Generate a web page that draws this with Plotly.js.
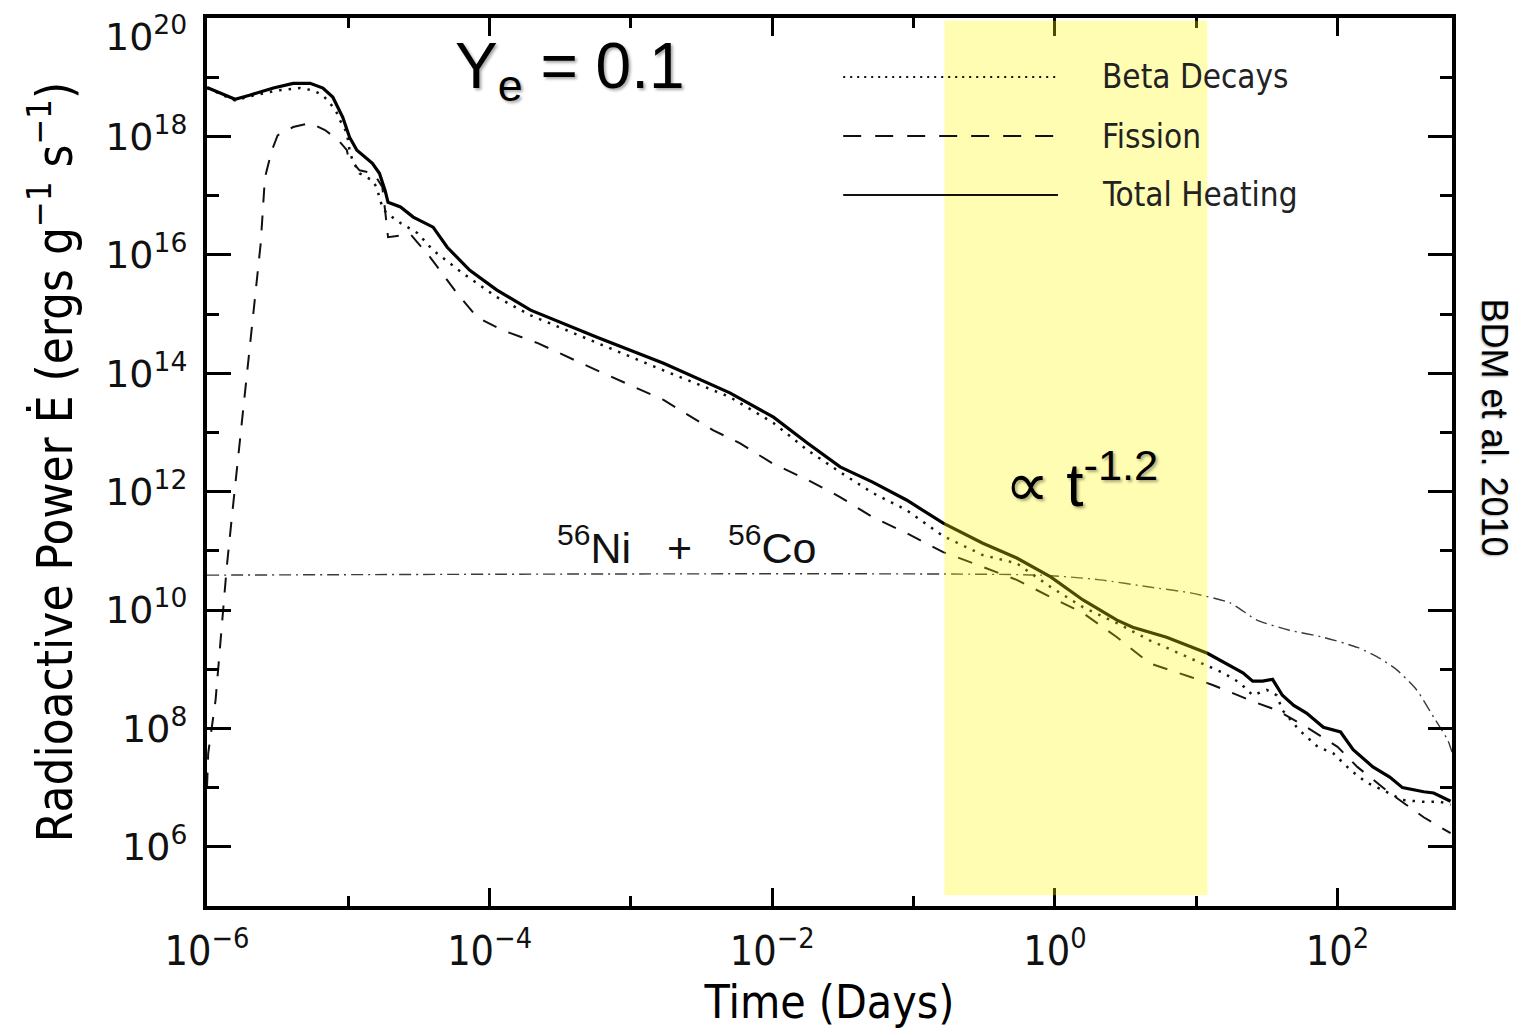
<!DOCTYPE html>
<html>
<head>
<meta charset="utf-8">
<script src="https://cdn.plot.ly/plotly-3.0.1.min.js"></script>
<style>
  html, body { margin: 0; padding: 0; background: #ffffff; }
  #chart { width: 1517px; height: 1034px; }
</style>
</head>
<body>
<div id="chart"></div>
<script>
// ---- Data (time in days, power in erg g^-1 s^-1) ----
const totalTime = [1.0e-6, 1.58e-6, 2.0e-6, 2.95e-6, 4.07e-6, 5.37e-6, 6.61e-6, 7.76e-6, 9.12e-6, 1.02e-5,
  1.15e-5, 1.48e-5, 1.66e-5, 1.82e-5, 1.91e-5, 2.34e-5, 2.88e-5, 3.98e-5, 5.01e-5, 7.24e-5,
  1.12e-4, 1.95e-4, 5.75e-4, 1.70e-3, 5.01e-3, 0.0102, 0.0178, 0.0302, 0.0513, 0.0891,
  0.162, 0.309, 0.537, 0.933, 1.58, 2.75, 3.55, 6.17, 12.0, 15.5,
  21.4, 25.1, 29.5, 34.7, 40.7, 49.0, 60.3, 79.4, 105, 129,
  178, 234, 288, 407, 479, 631];
const totalPower = [6.76e18, 4.27e18, 5.01e18, 6.61e18, 7.94e18, 7.94e18, 6.61e18, 4.68e18, 2.14e18, 9.77e17,
  5.89e17, 3.55e17, 2.40e17, 1.23e17, 7.76e16, 6.46e16, 4.37e16, 2.95e16, 1.35e16, 5.50e15,
  2.57e15, 1.17e15, 4.07e14, 1.48e14, 4.68e13, 1.82e13, 6.61e12, 2.63e12, 1.45e12, 7.24e11,
  2.95e11, 1.35e11, 7.59e10, 3.63e10, 1.48e10, 6.76e9, 5.13e9, 3.47e9, 1.86e9, 1.32e9,
  8.71e8, 6.31e8, 6.31e8, 6.76e8, 3.63e8, 2.45e8, 1.82e8, 1.05e8, 8.71e7, 4.37e7,
  2.24e7, 1.51e7, 1.00e7, 8.51e6, 8.13e6, 5.89e6];

const betaTime = [1.0e-6, 1.58e-6, 2.0e-6, 3.16e-6, 4.57e-6, 5.62e-6, 6.61e-6, 7.41e-6, 8.13e-6, 8.71e-6,
  9.77e-6, 1.02e-5, 1.07e-5, 1.20e-5, 1.35e-5, 1.48e-5, 1.58e-5, 1.74e-5, 1.86e-5, 2.34e-5,
  3.09e-5, 3.98e-5, 6.46e-5, 1.12e-4, 1.95e-4, 5.75e-4, 1.70e-3, 5.01e-3, 0.0102, 0.0178,
  0.0302, 0.0513, 0.0891, 0.162, 0.309, 0.537, 0.933, 1.58, 2.75, 4.68,
  12.0, 15.5, 20.4, 25.1, 31.6, 37.2, 40.7, 53.7, 72.4, 93.3,
  123, 162, 209, 288, 407, 537, 631];
const betaPower = [6.61e18, 4.07e18, 4.79e18, 6.03e18, 6.61e18, 6.03e18, 5.01e18, 3.63e18, 2.82e18, 1.91e18,
  1.15e18, 5.89e17, 3.98e17, 2.40e17, 2.04e17, 1.82e17, 1.41e17, 6.46e16, 5.13e16, 3.47e16,
  2.34e16, 1.20e16, 4.90e15, 1.95e15, 9.55e14, 3.24e14, 1.12e14, 3.98e13, 1.45e13, 5.01e12,
  2.14e12, 9.55e11, 4.90e11, 1.78e11, 8.51e10, 6.17e10, 2.45e10, 1.12e10, 6.03e9, 3.09e9,
  1.17e9, 8.71e8, 5.89e8, 3.63e8, 4.47e8, 3.63e8, 2.04e8, 9.33e7, 4.90e7, 3.80e7,
  2.00e7, 1.20e7, 9.12e6, 6.17e6, 5.75e6, 5.75e6, 5.13e6];

const fissionTime = [1.0e-6, 1.02e-6, 1.15e-6, 1.29e-6, 1.38e-6, 1.51e-6, 2.40e-6, 2.57e-6, 2.69e-6, 2.88e-6,
  3.16e-6, 4.07e-6, 5.37e-6, 6.84e-6, 8.51e-6, 9.77e-6, 1.0e-5, 1.20e-5, 1.51e-5, 1.74e-5,
  1.82e-5, 1.91e-5, 2.75e-5, 3.80e-5, 5.89e-5, 8.13e-5, 1.23e-4, 2.19e-4, 5.75e-4, 1.70e-3,
  3.80e-3, 5.89e-3, 0.010, 0.0178, 0.0302, 0.0513, 0.0891, 0.162, 0.309, 0.537,
  0.933, 1.58, 2.75, 4.68, 9.12, 13.2, 26.9, 37.2, 60.3, 100,
  138, 234, 407, 631];
const fissionPower = [1.0e7, 3.80e7, 3.02e8, 7.59e9, 5.37e10, 4.37e11, 1.58e16, 2.04e17, 3.02e17, 5.89e17,
  1.05e18, 1.45e18, 1.70e18, 1.29e18, 8.71e17, 5.89e17, 4.47e17, 2.69e17, 2.40e17, 1.41e17,
  5.75e16, 2.00e16, 2.24e16, 9.12e15, 2.24e15, 8.91e14, 5.37e14, 3.24e14, 1.12e14, 3.55e13,
  1.10e13, 6.61e12, 3.02e12, 1.58e12, 8.13e11, 3.72e11, 2.00e11, 9.55e10, 5.37e10, 3.24e10,
  1.66e10, 8.91e9, 3.47e9, 1.26e9, 7.41e8, 5.37e8, 2.69e8, 2.04e8, 1.05e8, 4.90e7,
  2.24e7, 8.13e6, 3.16e6, 1.70e6];

const nicoTime = [1.0e-6, 0.794, 2.09, 4.68, 9.12, 17.4, 26.9, 45.7, 79.4, 138, 191, 263, 363, 479, 603, 646];
const nicoPower = [3.89e10, 3.89e10, 3.24e10, 2.45e10, 1.95e10, 1.32e10, 6.76e9, 4.57e9, 3.47e9, 2.34e9,
  1.62e9, 9.77e8, 4.47e8, 1.55e8, 6.31e7, 3.98e7];

const seriesNames = ['Beta Decays', 'Fission', 'Total Heating'];

const xTickVals = [1e-6, 1e-4, 1e-2, 1, 1e2];
const xTickText = ['10<sup>\u22126</sup>', '10<sup>\u22124</sup>', '10<sup>\u22122</sup>', '10<sup>0</sup>', '10<sup>2</sup>'];
const xMinorVals = [1e-5, 1e-3, 1e-1, 1e1];
const yTickVals = [1e6, 1e8, 1e10, 1e12, 1e14, 1e16, 1e18, 1e20];
const yTickText = ['10<sup>6</sup>', '10<sup>8</sup>', '10<sup>10</sup>', '10<sup>12</sup>', '10<sup>14</sup>', '10<sup>16</sup>', '10<sup>18</sup>', '10<sup>20</sup>'];
const yMinorVals = [1e7, 1e9, 1e11, 1e13, 1e15, 1e17, 1e19];

// band of the t^-1.2 regime (days)
const bandStart = 0.165;
const bandEnd = 12.0;

// ---- Figure ----
const condensed = '"DejaVu Sans Condensed", "Liberation Sans Narrow", "DejaVu Sans", sans-serif';
const yTickFont = { family: '"DejaVu Sans", sans-serif', size: 38, color: '#111' };

const traces = [
  { x: nicoTime, y: nicoPower, mode: 'lines', name: '56Ni + 56Co',
    line: { color: '#3a3a3a', width: 1.4, dash: '12px,5px,2px,5px', shape: 'spline', smoothing: 0.6 } },
  { x: fissionTime, y: fissionPower, mode: 'lines', name: seriesNames[1],
    line: { color: '#111', width: 2, dash: '15px,13px' } },
  { x: betaTime, y: betaPower, mode: 'lines', name: seriesNames[0],
    line: { color: '#111', width: 2.5, dash: '2.5px,7px' } },
  { x: totalTime, y: totalPower, mode: 'lines', name: seriesNames[2],
    line: { color: '#000', width: 3.2 } }
];

const legendY = [0.9336, 0.8671, 0.8007];
const legendDash = ['2px,5px', '18px,14px', 'solid'];

const shapes = [
  { type: 'rect', xref: 'x', yref: 'paper', x0: bandStart, x1: bandEnd, y0: 0.012, y1: 0.997,
    fillcolor: 'rgba(255,250,0,0.30)', line: { width: 0 }, layer: 'above' }
];
const annotations = [];
seriesNames.forEach((nm, i) => {
  shapes.push({ type: 'line', xref: 'paper', yref: 'paper', x0: 0.511, x1: 0.6835, y0: legendY[i], y1: legendY[i],
    line: { color: '#111', width: 2, dash: legendDash[i] } });
  annotations.push({ xref: 'paper', yref: 'paper', x: 0.7173, y: legendY[i], xanchor: 'left', yanchor: 'middle',
    text: nm, showarrow: false, font: { family: condensed, size: 33, color: '#222' } });
});

// the top tick label sits just below its tick (as in the reference) so it stays inside the page
const lastY = yTickVals.length - 1;
const yAxisTickText = yTickText.map((t, i) => (i === lastY ? '' : t));
annotations.push({ xref: 'paper', yref: 'y', x: -0.0145, y: Math.log10(yTickVals[lastY]), yshift: -16,
  xanchor: 'right', yanchor: 'middle', text: yTickText[lastY], showarrow: false, font: yTickFont });

annotations.push(
  { xref: 'paper', yref: 'paper', x: 0.2916, y: 0.9414, xanchor: 'center', yanchor: 'middle',
    text: 'Y<sub>e</sub> = 0.1', showarrow: false,
    font: { family: 'Liberation Sans, Arial, sans-serif', size: 64, color: '#000', shadow: '2px 2px 3px rgba(0,0,0,0.35)' } },
  { xref: 'paper', yref: 'paper', x: 0.7028, y: 0.4797, xanchor: 'center', yanchor: 'middle',
    text: '\u221D t<sup>-1.2</sup>', showarrow: false,
    font: { family: 'Liberation Sans, Arial, sans-serif', size: 62, color: '#000', shadow: '2px 2px 3px rgba(0,0,0,0.35)' } },
  { xref: 'paper', yref: 'paper', x: 0.385, y: 0.4065, xanchor: 'center', yanchor: 'middle',
    text: '<sup>56</sup>Ni\u00a0\u00a0\u00a0+\u00a0\u00a0\u00a0<sup>56</sup>Co', showarrow: false,
    font: { family: 'Liberation Sans, Arial, sans-serif', size: 43, color: '#111' } },
  { xref: 'paper', yref: 'paper', x: 1.0345, y: 0.539, xanchor: 'center', yanchor: 'middle',
    text: 'BDM et al. 2010', textangle: 90, showarrow: false,
    font: { family: 'Liberation Sans, Arial, sans-serif', size: 36, color: '#000', shadow: '1px 1px 2px rgba(0,0,0,0.3)' } }
);

const layout = {
  width: 1517, height: 1034,
  margin: { l: 207, r: 65, t: 18, b: 128 },
  paper_bgcolor: '#ffffff', plot_bgcolor: '#ffffff',
  showlegend: false,
  xaxis: {
    type: 'log', range: [-6, 2.81],
    showgrid: false, zeroline: false,
    showline: true, linewidth: 4, linecolor: '#000', mirror: 'allticks',
    ticks: 'inside', ticklen: 18, tickwidth: 3, tickcolor: '#000',
    tickmode: 'array', tickvals: xTickVals, ticktext: xTickText,
    ticklabelstandoff: 6, ticklabeloverflow: 'allow',
    tickfont: { family: condensed, size: 41, color: '#111' },
    minor: { tickmode: 'array', tickvals: xMinorVals, ticks: 'inside', ticklen: 10, tickwidth: 3, tickcolor: '#000', showgrid: false },
    title: { text: 'Time (Days)', font: { family: condensed, size: 46, color: '#000' }, standoff: 2 }
  },
  yaxis: {
    type: 'log', range: [5, 20.004],
    showgrid: false, zeroline: false,
    showline: true, linewidth: 4, linecolor: '#000', mirror: 'allticks',
    ticks: 'inside', ticklen: 24, tickwidth: 3, tickcolor: '#000',
    tickmode: 'array', tickvals: yTickVals, ticktext: yAxisTickText,
    ticklabelstandoff: 8,
    tickfont: yTickFont,
    minor: { tickmode: 'array', tickvals: yMinorVals, ticks: 'inside', ticklen: 12, tickwidth: 3, tickcolor: '#000', showgrid: false },
    title: { text: 'Radioactive Power \u0116 (ergs g<sup>\u22121</sup> s<sup>\u22121</sup>)', font: { family: condensed, size: 49, color: '#000' }, standoff: 18 }
  },
  shapes: shapes,
  annotations: annotations
};

Plotly.newPlot('chart', traces, layout, { staticPlot: true, displayModeBar: false });
</script>
</body>
</html>
